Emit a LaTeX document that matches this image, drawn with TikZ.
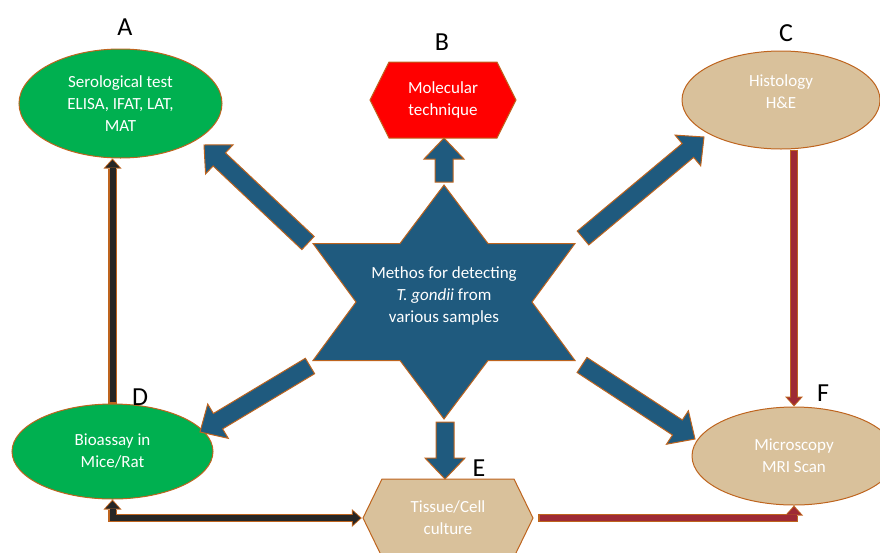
\documentclass[tikz,border=0pt]{standalone}
\usepackage{fontspec}
\setmainfont{Carlito}
\usetikzlibrary{shapes.geometric,arrows.meta,calc}

\definecolor{grn}{HTML}{00B050}
\definecolor{tanfill}{HTML}{D9C19B}
\definecolor{edge}{HTML}{BE641E}
\definecolor{starblue}{HTML}{1F5A7E}
\definecolor{darkarrow}{HTML}{262626}
\definecolor{redarrow}{HTML}{9E2A35}

% block arrow from #1 to #2
\newcommand{\blockarrow}[2]{%
  \coordinate (neck) at ($(#2)!21pt!(#1)$);
  \filldraw[blockfill] ($(#1)!9pt!90:(#2)$) -- ($(neck)!9pt!90:(#2)$)
    -- ($(neck)!20pt!90:(#2)$) -- (#2) -- ($(neck)!20pt!-90:(#2)$)
    -- ($(neck)!9pt!-90:(#2)$) -- ($(#1)!9pt!-90:(#2)$) -- cycle;}
% thin arrow with an outline: #1 tips, #2 colour, #3 path
\newcommand{\outlined}[3]{%
  \draw[outerpass,#1] #3;
  \draw[innerpass,draw=#2,#1] #3;}

\begin{document}
\begin{tikzpicture}[x=1pt,y=-1pt]
  \tikzstyle{txt} = [font=\fontsize{17}{22}\selectfont, text=white, align=center]
  \tikzstyle{oval} = [ellipse, draw=edge, line width=1pt, inner sep=2pt, txt]
  \tikzstyle{letter} = [font=\fontsize{26}{30}\selectfont, inner sep=0pt]
  \tikzstyle{blockfill} = [fill=starblue, draw=edge, line width=1pt, line join=miter]
  \tikzstyle{outerpass} = [draw=edge, line width=8.5pt, line join=miter,
    >={Triangle[length=10pt,width=18pt,line width=0pt]}]
  \tikzstyle{innerpass} = [line width=6pt, line join=miter,
    >={Triangle[length=7.5pt,width=14pt,line width=0pt]},
    shorten >=1.5pt, shorten <=1.5pt]
  \tikzset{hexbox/.style={inner sep=0pt, txt,
    path picture={\filldraw[fill=#1, draw=edge, line width=1pt]
      ([xshift=1pt]path picture bounding box.west)
      -- ([xshift=20pt,yshift=-1pt]path picture bounding box.north west)
      -- ([xshift=-20pt,yshift=-1pt]path picture bounding box.north east)
      -- ([xshift=-1pt]path picture bounding box.east)
      -- ([xshift=-20pt,yshift=1pt]path picture bounding box.south east)
      -- ([xshift=20pt,yshift=1pt]path picture bounding box.south west)
      -- cycle;}}}
  \useasboundingbox (0,0) rectangle (880,552);

  % the star in the middle
  \filldraw[blockfill] (444,185) -- (488,243.5) -- (575,243.5) -- (532,302)
    -- (575,360.5) -- (488,360.5) -- (444,419) -- (400,360.5) -- (313,360.5)
    -- (356,302) -- (313,243.5) -- (400,243.5) -- cycle;
  \node (meth) [txt] at (444,296) {Methos for detecting\\\textit{T. gondii} from\\various samples};

  % the six methods
  \node (sero) [oval, fill=grn, minimum width=203, minimum height=109] at (120.5,103.5)
    {Serological test\\ELISA, IFAT, LAT,\\MAT};
  \node (mol) [hexbox=red, minimum width=148, minimum height=78] at (443,100)
    {Molecular\\technique};
  \node (histo) [oval, fill=tanfill, minimum width=198, minimum height=98,
    text depth=16pt] at (781,100) {Histology\\H\&E};
  \node (bio) [oval, fill=grn, minimum width=201, minimum height=95] at (112.5,451.5)
    {Bioassay in\\Mice/Rat};
  \node (tissue) [hexbox=tanfill, minimum width=172, minimum height=80] at (448,518)
    {Tissue/Cell\\culture};
  \node (micro) [oval, fill=tanfill, minimum width=204, minimum height=98] at (794,456)
    {Microscopy\\MRI Scan};

  % letters
  \node (labA) [letter] at (125,27) {A};
  \node (labB) [letter] at (442,42) {B};
  \node (labC) [letter] at (786,33) {C};
  \node (labD) [letter] at (140,397) {D};
  \node (labE) [letter] at (479,468) {E};
  \node (labF) [letter] at (823,393) {F};

  % big arrows out of the star
  \coordinate (tA) at (308,243);  \coordinate (hA) at (204,145);
  \coordinate (tB) at (444,182);  \coordinate (hB) at (444,138);
  \coordinate (tC) at (583,238);  \coordinate (hC) at (704,137);
  \coordinate (tD) at (310,366);  \coordinate (hD) at (200,432);
  \coordinate (tE) at (445,422);  \coordinate (hE) at (445,479);
  \coordinate (tF) at (582,365);  \coordinate (hF) at (695,439);
  \blockarrow{tA}{hA}
  \blockarrow{tB}{hB}
  \blockarrow{tC}{hC}
  \blockarrow{tD}{hD}
  \blockarrow{tE}{hE}
  \blockarrow{tF}{hF}

  % links between the methods
  \outlined{->}{darkarrow}{(bio.north) -- (bio.north |- sero.south)}
  \outlined{<->}{darkarrow}{(bio.south) |- (tissue.west)}
  \outlined{->}{redarrow}{(micro.north |- histo.south) -- (micro.north)}
  \outlined{->}{redarrow}{([xshift=4pt]tissue.east) -| (micro.south)}
\end{tikzpicture}
\end{document}
